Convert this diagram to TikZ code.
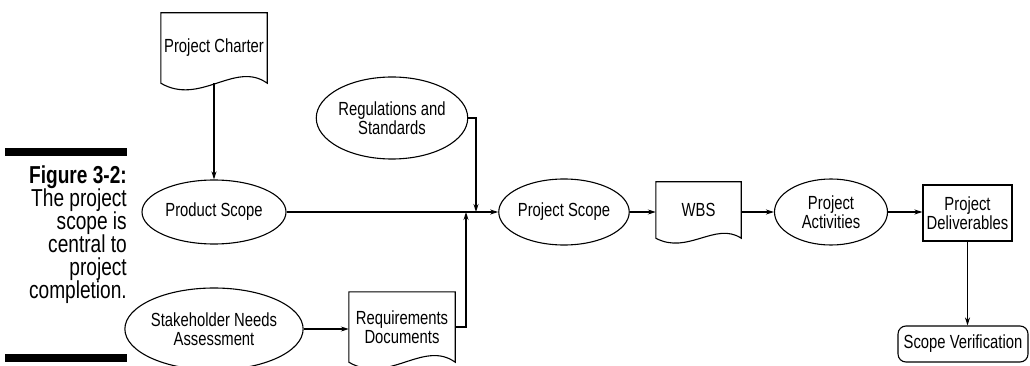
\documentclass[tikz,border=0pt]{standalone}
\usepackage{fontspec}
\setmainfont{Liberation Sans}[FakeStretch=0.78]
\usetikzlibrary{shapes.geometric,arrows.meta,calc}
\newcommand\mydoc[2]{\draw[ln] (#1.south west) -- (#1.north west) -- (#1.north east) -- (#1.south east) .. controls ($(#1.south east)!0.3!(#1.south west)+(0,-#2)$) and ($(#1.south west)!0.37!(#1.south east)+(0,#2)$) .. (#1.south west) -- cycle;}
\begin{document}
\begin{tikzpicture}[x=1pt,y=-1pt,
  every node/.style={font=\fontsize{19}{19}\selectfont, align=center, inner sep=0pt},
  ell/.style={ellipse, draw, line width=1.1pt},
  docbox/.style={rectangle, minimum width=106pt, minimum height=70pt},
  ln/.style={line width=1.1pt},
  arr/.style={line width=1.1pt, -{Stealth[length=8pt,width=5pt]}},
]
\useasboundingbox (0,0) rectangle (1030,366);
% caption
\fill (5,148) rectangle (127,156);
\fill (5,354) rectangle (127,362);
\node[anchor=north east, align=right, font=\fontsize{24.5}{23}\selectfont] (cap) at (127,166)
  {\textbf{Figure 3-2:}\\The project\\scope is\\central to\\project\\completion.};
% nodes
\node[docbox] (charter) at (214,48) {Project Charter};
\mydoc{charter}{23}
\node[ell, minimum width=144pt, minimum height=64pt] (product) at (214,212) {Product Scope};
\node[ell, minimum width=142pt, minimum height=82pt] (regs) at (392,118) {Regulations and\\Standards};
\node[ell, minimum width=144pt, minimum height=82pt] (stake) at (214,329) {Stakeholder Needs\\Assessment};
\node[docbox] (req) at (402,327) {Requirements\\Documents};
\mydoc{req}{23}
\node[ell, minimum width=114pt, minimum height=66pt] (pscope) at (564,212) {Project Scope};
\node[rectangle, minimum width=85pt, minimum height=56pt] (wbs) at (698.5,210) {WBS};
\mydoc{wbs}{17}
\node[ell, minimum width=113pt, minimum height=66pt] (act) at (831,212) {Project\\Activities};
\node[rectangle, draw, line width=1.1pt, minimum width=89pt, minimum height=56pt] (deliv) at (967.5,213) {Project\\Deliverables};
\node[rectangle, draw, line width=1.1pt, rounded corners=8pt, minimum width=130pt, minimum height=36pt] (verif) at (963,344) {Scope Verification};
% junctions
\coordinate (jr) at (476,212);
\coordinate (jq) at (466,212);
% connectors
\draw[arr] (charter.south) -- (product.north);
\draw[arr] (product.east) -- (pscope.west);
\draw[arr] (regs.east) -| (jr);
\draw[arr] (req.east) -| (jq);
\draw[arr] (stake.east) -- (stake.east -| req.west);
\draw[arr] (pscope.east) -- (pscope.east -| wbs.west);
\draw[arr] (wbs.east |- act.west) -- (act.west);
\draw[arr] (act.east) -- (act.east -| deliv.west);
\draw[arr] (deliv.south) -- (deliv.south |- verif.north);
\end{tikzpicture}
\end{document}
